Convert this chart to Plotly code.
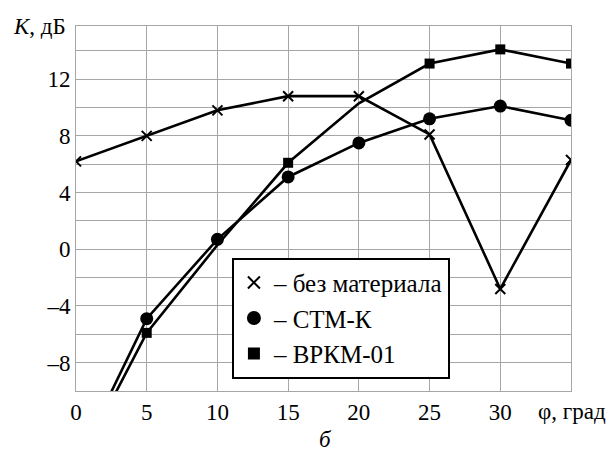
import plotly.graph_objects as go

phi = [0, 5, 10, 15, 20, 25, 30, 35]
k_none = [6.2, 8.0, 9.8, 10.8, 10.8, 8.1, -2.8, 6.3]
k_stm = [-15.2, -4.9, 0.7, 5.1, 7.5, 9.2, 10.1, 9.1]
k_vrkm = [-15.5, -5.9, 0.3, 6.1, 10.3, 13.1, 14.1, 13.1]
vrkm_marker_sizes = [0, 10, 0, 10, 0, 10, 10, 10]
stm_marker_sizes = [0, 13, 13, 13, 13, 13, 13, 13]

y_ticks = [-8, -4, 0, 4, 8, 12]
y_ticktext = ["\u2013" + str(-v) if v < 0 else str(v) for v in y_ticks]
x_ticks = [0, 5, 10, 15, 20, 25, 30]

legend_names = ["\u2013 без материала", "\u2013 СТМ-К", "\u2013 ВРКМ-01"]

FONT = "Liberation Serif"
GRID = "#a6a6a6"
TICK_SIZE = 23
LEG_SIZE = 25

fig = go.Figure()
fig.add_trace(go.Scatter(x=phi, y=k_none, mode="lines+markers",
                         line=dict(color="black", width=2.6),
                         marker=dict(symbol="x-thin", size=10, opacity=1,
                                     line=dict(color="black", width=2)),
                         showlegend=False))
fig.add_trace(go.Scatter(x=phi, y=k_stm, mode="lines+markers",
                         line=dict(color="black", width=2.6),
                         marker=dict(symbol="circle", size=stm_marker_sizes, color="black",
                                     opacity=1, line=dict(color="black", width=0)),
                         showlegend=False))
fig.add_trace(go.Scatter(x=phi, y=k_vrkm, mode="lines+markers",
                         line=dict(color="black", width=2.6),
                         marker=dict(symbol="square", size=vrkm_marker_sizes, color="black",
                                     opacity=1, line=dict(color="black", width=0)),
                         showlegend=False))

# legend-only entries (marker only)
fig.add_trace(go.Scatter(x=[None], y=[None], mode="markers", name=legend_names[0],
                         legendgroup="a",
                         marker=dict(symbol="x-thin", size=12, line=dict(color="black", width=2))))
fig.add_trace(go.Scatter(x=[None], y=[None], mode="markers", name=legend_names[1],
                         legendgroup="b",
                         marker=dict(symbol="circle", size=14, color="black")))
fig.add_trace(go.Scatter(x=[None], y=[None], mode="markers", name=legend_names[2],
                         legendgroup="c",
                         marker=dict(symbol="square", size=12, color="black")))

fig.update_layout(
    width=610, height=455,
    margin=dict(l=76, r=39, t=26, b=64),
    paper_bgcolor="white", plot_bgcolor="white",
    font=dict(family=FONT, size=TICK_SIZE, color="black"),
    legend=dict(x=0.315, y=0.365, xanchor="left", yanchor="top",
                bgcolor="white", bordercolor="black", borderwidth=2,
                font=dict(family=FONT, size=LEG_SIZE),
                traceorder="grouped", tracegroupgap=0,
                itemsizing="trace", itemwidth=30),
    xaxis=dict(range=[0, 35], tickvals=x_ticks, ticktext=[str(v) for v in x_ticks],
               showgrid=True, gridcolor=GRID, gridwidth=1,
               minor=dict(dtick=5, showgrid=True, gridcolor=GRID),
               showline=True, mirror=True, linecolor=GRID, linewidth=1,
               zeroline=False, ticks="",
               tickfont=dict(family=FONT, size=TICK_SIZE)),
    yaxis=dict(range=[-10, 15.75], tickvals=y_ticks, ticktext=y_ticktext,
               showgrid=True, gridcolor=GRID, gridwidth=1,
               minor=dict(dtick=2, tick0=0, showgrid=True, gridcolor=GRID),
               showline=True, mirror=True, linecolor=GRID, linewidth=1,
               zeroline=False, ticks="",
               tickfont=dict(family=FONT, size=TICK_SIZE)),
    annotations=[
        dict(text="<i>K</i>, дБ", xref="paper", yref="paper", x=-0.016, y=1.0,
             xanchor="right", yanchor="middle", showarrow=False,
             font=dict(family=FONT, size=TICK_SIZE)),
        dict(text="φ, град", xref="paper", yref="paper", x=1.075, y=-0.055,
             xanchor="right", yanchor="middle", showarrow=False,
             font=dict(family=FONT, size=TICK_SIZE)),
        dict(text="<i>б</i>", xref="paper", yref="paper", x=0.505, y=-0.134,
             xanchor="center", yanchor="middle", showarrow=False,
             font=dict(family=FONT, size=TICK_SIZE)),
    ],
)

fig.write_html("out.html", config={"displayModeBar": False},
               post_script="document.body.style.margin='0';")
